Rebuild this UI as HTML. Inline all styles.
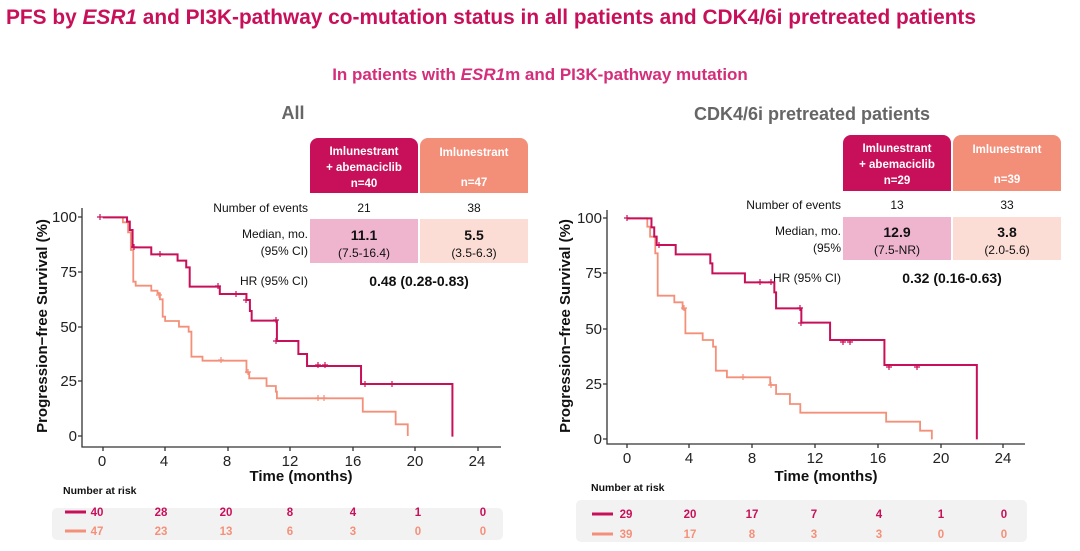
<!DOCTYPE html>
<html><head><meta charset="utf-8"><style>
html,body{margin:0;padding:0;background:#fff;}
svg{display:block;font-family:"Liberation Sans",Arial,sans-serif;}
</style></head><body>
<svg width="1080" height="551" viewBox="0 0 1080 551" xmlns="http://www.w3.org/2000/svg">
<text x="6" y="24" font-size="21" font-weight="bold" fill="#C8105A" textLength="970" lengthAdjust="spacingAndGlyphs">PFS by <tspan font-style="italic">ESR1</tspan> and PI3K-pathway co-mutation status in all patients and CDK4/6i pretreated patients</text>
<text x="540" y="80" font-size="17" font-weight="bold" fill="#D42E7A" text-anchor="middle">In patients with <tspan font-style="italic">ESR1</tspan>m and PI3K-pathway mutation</text>
<text x="293" y="119" font-size="18" font-weight="bold" fill="#666" text-anchor="middle">All</text>
<text x="812" y="120" font-size="18" font-weight="bold" fill="#666" text-anchor="middle">CDK4/6i pretreated patients</text>

<!-- LEFT panel table -->
<path d="M310,193 V146 a8,8 0 0 1 8,-8 H410 a8,8 0 0 1 8,8 V193 Z" fill="#C8105A"/>
<path d="M420,193 V146 a8,8 0 0 1 8,-8 H520 a8,8 0 0 1 8,8 V193 Z" fill="#F38E78"/>
<g font-size="11.5" font-weight="bold" fill="#fff" text-anchor="middle">
<text x="364" y="155">Imlunestrant</text><text x="364" y="171">+ abemaciclib</text><text x="364" y="187">n=40</text>
<text x="474" y="156">Imlunestrant</text><text x="474" y="186">n=47</text></g>
<rect x="310" y="219" width="108" height="44" fill="#EFB5CF"/>
<rect x="420" y="219" width="108" height="44" fill="#FCDDD6"/>
<g font-size="12" fill="#111">
<text x="308" y="212" text-anchor="end">Number of events</text>
<text x="364" y="212" text-anchor="middle">21</text><text x="474" y="212" text-anchor="middle">38</text>
<text x="308" y="238" text-anchor="end">Median, mo.</text><text x="308" y="255" text-anchor="end">(95% CI)</text>
<text x="364" y="240" text-anchor="middle" font-weight="bold" font-size="14">11.1</text>
<text x="364" y="257" text-anchor="middle">(7.5-16.4)</text>
<text x="474" y="240" text-anchor="middle" font-weight="bold" font-size="14">5.5</text>
<text x="474" y="257" text-anchor="middle">(3.5-6.3)</text>
<text x="308" y="285" text-anchor="end">HR (95% CI)</text>
<text x="419" y="286" text-anchor="middle" font-weight="bold" font-size="14">0.48 (0.28-0.83)</text></g>

<!-- RIGHT panel table -->
<path d="M843,191 V143 a8,8 0 0 1 8,-8 H943 a8,8 0 0 1 8,8 V191 Z" fill="#C8105A"/>
<path d="M953,191 V143 a8,8 0 0 1 8,-8 H1053 a8,8 0 0 1 8,8 V191 Z" fill="#F38E78"/>
<g font-size="11.5" font-weight="bold" fill="#fff" text-anchor="middle">
<text x="897" y="152">Imlunestrant</text><text x="897" y="168">+ abemaciclib</text><text x="897" y="184">n=29</text>
<text x="1007" y="153">Imlunestrant</text><text x="1007" y="183">n=39</text></g>
<rect x="843" y="217" width="108" height="43" fill="#EFB5CF"/>
<rect x="953" y="217" width="108" height="43" fill="#FCDDD6"/>
<g font-size="12" fill="#111">
<text x="841" y="209" text-anchor="end">Number of events</text>
<text x="897" y="209" text-anchor="middle">13</text><text x="1007" y="209" text-anchor="middle">33</text>
<text x="841" y="235" text-anchor="end">Median, mo.</text><text x="841" y="252" text-anchor="end">(95%</text>
<text x="897" y="237" text-anchor="middle" font-weight="bold" font-size="14">12.9</text>
<text x="897" y="254" text-anchor="middle">(7.5-NR)</text>
<text x="1007" y="237" text-anchor="middle" font-weight="bold" font-size="14">3.8</text>
<text x="1007" y="254" text-anchor="middle">(2.0-5.6)</text>
<text x="841" y="282" text-anchor="end">HR (95% CI)</text>
<text x="952" y="283" text-anchor="middle" font-weight="bold" font-size="14">0.32 (0.16-0.63)</text></g>

<!-- axes -->
<g stroke="#333" stroke-width="1.3" fill="none">
<path d="M82,208 V447 H501"/>
<path d="M78,217 H82 M78,272 H82 M78,327 H82 M78,381 H82 M78,436 H82"/>
<path d="M103,447 V451 M165,447 V451 M228,447 V451 M290,447 V451 M353,447 V451 M415,447 V451 M478,447 V451"/>
<path d="M607,210 V444 H1025"/>
<path d="M603,218 H607 M603,273 H607 M603,329 H607 M603,384 H607 M603,439 H607"/>
<path d="M627,444 V448 M689,444 V448 M752,444 V448 M815,444 V448 M878,444 V448 M941,444 V448 M1003,444 V448"/>
</g>
<g font-size="15" fill="#222" text-anchor="end">
<text x="77" y="222">100</text><text x="77" y="277">75</text><text x="77" y="332">50</text><text x="77" y="386">25</text><text x="77" y="441">0</text>
<text x="602" y="223">100</text><text x="602" y="278">75</text><text x="602" y="334">50</text><text x="602" y="389">25</text><text x="602" y="444">0</text>
</g>
<g font-size="15" fill="#222" text-anchor="middle">
<text x="102" y="466">0</text><text x="164" y="466">4</text><text x="227" y="466">8</text><text x="290" y="466">12</text><text x="353" y="466">16</text><text x="415" y="466">20</text><text x="477" y="466">24</text>
<text x="627" y="463">0</text><text x="689" y="463">4</text><text x="752" y="463">8</text><text x="815" y="463">12</text><text x="878" y="463">16</text><text x="941" y="463">20</text><text x="1003" y="463">24</text>
</g>
<text x="301" y="481" font-size="15" font-weight="bold" fill="#111" text-anchor="middle">Time (months)</text>
<text x="826" y="481" font-size="15" font-weight="bold" fill="#111" text-anchor="middle">Time (months)</text>
<text transform="translate(47,326) rotate(-90)" font-size="15" font-weight="bold" fill="#111" text-anchor="middle">Progression−free Survival (%)</text>
<text transform="translate(570,326) rotate(-90)" font-size="15" font-weight="bold" fill="#111" text-anchor="middle">Progression−free Survival (%)</text>

<!-- LEFT curves -->
<g transform="translate(0,130) scale(0.34615,0.33333)" fill="none">
<path vector-effect="non-scaling-stroke" stroke="#F4907A" stroke-width="1.8" d="M297,262 H355 V277 H370 V307 H378 V360 H385 V455 H392 V467 H437 V482 H455 V490 H462 V508 H470 V560 H477 V573 H517 V590 H545 V605 H553 V680 H585 V692 H712 V727 H720 V745 H770 V768 H797 V785 H800 V805 H1048 V845 H1143 V883 H1178 V918"/>
<path vector-effect="non-scaling-stroke" stroke="#C8105A" stroke-width="2" d="M297,262 H367 V275 H375 V300 H383 V352 H437 V373 H513 V392 H538 V412 H548 V470 H635 V492 H712 V510 H722 V543 H727 V572 H800 V633 H862 V672 H887 V708 H1043 V762 H1307 V920"/>
</g>
<!-- RIGHT curves -->
<g transform="translate(540,130) scale(0.34615,0.33333)" fill="none">
<path vector-effect="non-scaling-stroke" stroke="#F4907A" stroke-width="1.8" d="M252,265 H310 V290 H318 V320 H333 V370 H340 V497 H388 V517 H412 V537 H420 V610 H470 V630 H500 V650 H508 V722 H540 V742 H665 V765 H682 V792 H722 V822 H752 V848 H1000 V875 H1098 V902 H1132 V928"/>
<path vector-effect="non-scaling-stroke" stroke="#C8105A" stroke-width="2" d="M252,265 H322 V292 H330 V320 H337 V345 H392 V373 H492 V400 H498 V430 H592 V457 H677 V487 H682 V535 H755 V578 H838 V630 H995 V705 H1262 V928"/>
</g>
<!-- censor marks -->
<g stroke="#C8105A" stroke-width="1.2">
<path d="M100,214 V220 M97,217 H103 M134,244 V250 M131,247 H137 M160,251 V257 M157,254 H163 M218,283 V289 M215,286 H221 M236,291 V297 M233,294 H239 M246,297 V303 M243,300 H249 M276,317 V323 M273,320 H279 M276,338 V344 M273,341 H279 M318,362 V368 M315,365 H321 M325,362 V368 M322,365 H328 M365,381 V387 M362,384 H368 M392,381 V387 M389,384 H395"/>
<path d="M627,215 V221 M624,218 H630 M659,242 V248 M656,245 H662 M760,279 V285 M757,282 H763 M771,279 V285 M768,282 H774 M800,305 V311 M797,308 H803 M801,320 V326 M798,323 H804 M843,339 V345 M840,342 H846 M850,339 V345 M847,342 H853 M889,364 V370 M886,367 H892 M917,364 V370 M914,367 H920"/>
</g>
<g stroke="#F4907A" stroke-width="1.2">
<path d="M159,292 V298 M156,295 H162 M221,357 V363 M218,360 H224 M248,369 V375 M245,372 H251 M318,395 V401 M315,398 H321 M324,395 V401 M321,398 H327"/>
<path d="M684,305 V311 M681,308 H687 M743,374 V380 M740,377 H746 M771,382 V388 M768,385 H774"/>
</g>

<!-- risk tables -->
<text x="63" y="494" font-size="10.5" font-weight="bold" fill="#111">Number at risk</text>
<rect x="52" y="508" width="451" height="32" rx="5" fill="#F2F2F2"/>
<line x1="65" y1="512" x2="86" y2="512" stroke="#C8105A" stroke-width="3"/>
<line x1="65" y1="531" x2="86" y2="531" stroke="#F4907A" stroke-width="3"/>
<g font-size="11.5" font-weight="bold" text-anchor="middle" fill="#C8105A">
<text x="97" y="516">40</text><text x="161" y="516">28</text><text x="226" y="516">20</text><text x="290" y="516">8</text><text x="353" y="516">4</text><text x="418" y="516">1</text><text x="483" y="516">0</text></g>
<g font-size="11.5" font-weight="bold" text-anchor="middle" fill="#F4907A">
<text x="97" y="535">47</text><text x="161" y="535">23</text><text x="226" y="535">13</text><text x="290" y="535">6</text><text x="353" y="535">3</text><text x="418" y="535">0</text><text x="483" y="535">0</text></g>

<text x="591" y="491" font-size="10.5" font-weight="bold" fill="#111">Number at risk</text>
<rect x="576" y="500" width="451" height="42" rx="5" fill="#F2F2F2"/>
<line x1="592" y1="514" x2="613" y2="514" stroke="#C8105A" stroke-width="3"/>
<line x1="592" y1="534" x2="613" y2="534" stroke="#F4907A" stroke-width="3"/>
<g font-size="11.5" font-weight="bold" text-anchor="middle" fill="#C8105A">
<text x="626" y="518">29</text><text x="690" y="518">20</text><text x="752" y="518">17</text><text x="814" y="518">7</text><text x="879" y="518">4</text><text x="941" y="518">1</text><text x="1004" y="518">0</text></g>
<g font-size="11.5" font-weight="bold" text-anchor="middle" fill="#F4907A">
<text x="626" y="538">39</text><text x="690" y="538">17</text><text x="752" y="538">8</text><text x="814" y="538">3</text><text x="879" y="538">3</text><text x="941" y="538">0</text><text x="1004" y="538">0</text></g>
</svg>
</body></html>
